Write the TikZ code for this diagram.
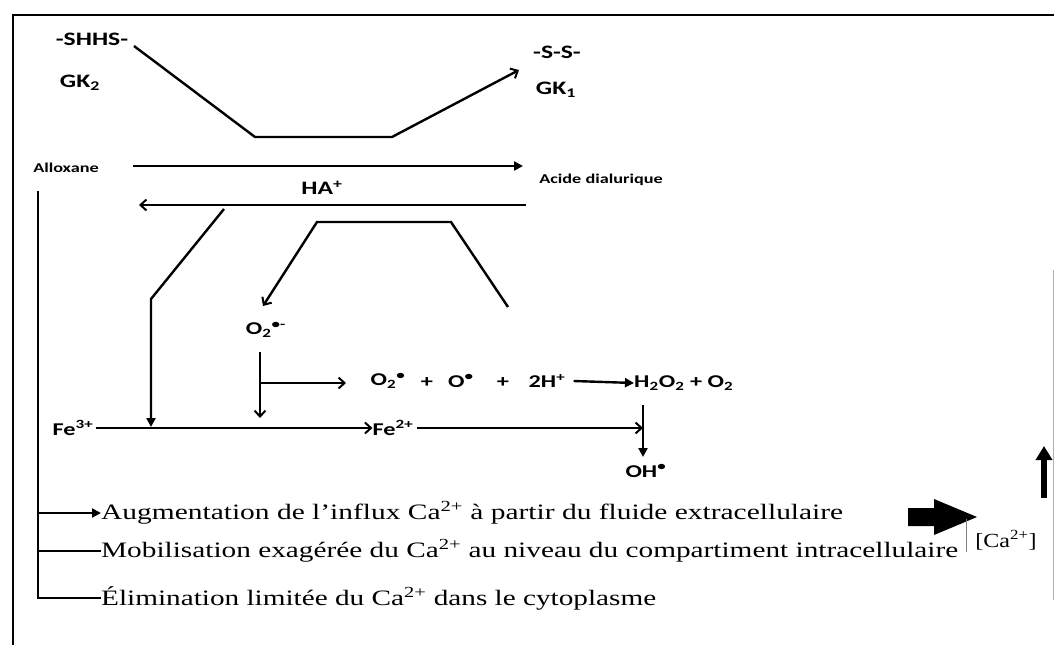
\documentclass[tikz,border=0pt]{standalone}
\usepackage{fontspec}
\usepackage{graphicx}
\setmainfont{Liberation Serif}
\newfontfamily\labfont{Carlito}
\usetikzlibrary{arrows.meta}
\newcommand\sx[1]{\scalebox{1.35}[1]{#1}}
\newcommand\wide[2]{\resizebox{#1}{\height}{#2}}
\tikzset{
  ln/.style={line width=2.4pt, black, line join=miter},
  barb/.style={ln, -{Straight Barb[length=6pt,width=11pt,line width=2pt]}},
  tri/.style={ln, -{Triangle[length=9pt,width=9pt]}},
  lbl/.style={font=\labfont\bfseries\fontsize{19}{21}\selectfont, inner sep=0pt},
  small/.style={font=\labfont\bfseries\fontsize{13.5}{15}\selectfont, inner sep=0pt},
  chem/.style={font=\labfont\bfseries\fontsize{18}{20}\selectfont, inner sep=0pt},
  body/.style={font=\fontsize{22}{24}\selectfont, inner sep=0pt, anchor=west},
}
\begin{document}
\begin{tikzpicture}[x=1pt,y=-1pt]
\useasboundingbox (0,0) rectangle (1054,645);
% frame
\draw[line width=2.8pt] (13,645) -- (13,15) -- (1054,15);
\draw[gray!60, line width=1pt] (1053,270) -- (1053,600);

% top labels
\node[lbl] (shhs) at (92,39) {\sx{-SHHS-}};
\node[lbl] (gk2) at (80,83) {\sx{GK\textsubscript{2}}};
\node[lbl] (ss) at (557,52) {\sx{-S-S-}};
\node[lbl] (gk1) at (556,90) {\sx{GK\textsubscript{1}}};
\node[small] (allox) at (66,168) {\sx{Alloxane}};
\node[small] (acide) at (601,180) {\sx{Acide dialurique}};
\node[lbl] (ha) at (322,188) {\sx{HA\textsuperscript{+}}};

% GK path
\coordinate (g0) at (134,46);
\coordinate (g1) at (255,137);
\coordinate (g2) at (392,137);
\coordinate (g3) at (519,70);
\draw[barb] (g0) -- (g1) -- (g2) -- (g3);

% alloxane -> acide dialurique
\coordinate (a0) at (133,166);
\coordinate (a1) at (523,166);
\draw[tri] (a0) -- (a1);
% return arrow
\coordinate (b0) at (526,205);
\coordinate (b1) at (139,205);
\draw[barb] (b0) -- (b1);

% chemistry nodes
\node[chem] (fe3) at (73,428) {\sx{Fe\textsuperscript{3+}}};
\node[chem] (fe2) at (393,428) {\sx{Fe\textsuperscript{2+}}};
\node[chem] (o2) at (266,330) {\sx{O\textsubscript{2}\textsuperscript{•-}}};
\node[chem] (r1) at (388,381) {\sx{O\textsubscript{2}\textsuperscript{•}}};
\node[chem] (p1) at (427,383) {\sx{+}};
\node[chem] (r2) at (461,381) {\sx{O\textsuperscript{•}}};
\node[chem] (p2) at (503,383) {\sx{+}};
\node[chem] (r3) at (547,381) {\sx{2H\textsuperscript{+}}};
\node[chem, anchor=west] (prod) at (634,383) {\sx{H\textsubscript{2}O\textsubscript{2} + O\textsubscript{2}}};
\node[chem] (oh) at (646,471) {\sx{OH\textsuperscript{•}}};

% path 1: HA -> Fe line
\coordinate (c0) at (224,209);
\coordinate (c1) at (151,299);
\coordinate (c2) at (151,427);
\draw[tri] (c0) -- (c1) -- (c2);

% path 2 -> O2
\coordinate (d0) at (508,307);
\coordinate (d1) at (451,222);
\coordinate (d2) at (317,222);
\coordinate (d3) at (263,306);
\draw[barb] (d0) -- (d1) -- (d2) -- (d3);

% from O2 down
\coordinate (e0) at (260,352);
\coordinate (e1) at (260,418);
\draw[barb] (e0) -- (e1);
\coordinate (e2) at (260,383);
\draw[barb] (e2) -- (346,383);

% reaction arrow
\draw[tri] (r3.east) ++(8pt,0) coordinate (f0) -- (prod.west);

% Fe lines
\draw[barb] (fe3.east) ++(2pt,0) -- (fe2.west);
\coordinate (h0) at (643,405);
\coordinate (h1) at (643,457);
\draw[barb] ([xshift=3pt]fe2.east) -- (h0 |- fe2);
\draw[tri] (h0) -- (h1);

% bottom texts
\node[body] (aug) at (101,513) {\wide{742pt}{Augmentation de l'influx Ca\textsuperscript{2+} à partir du fluide extracellulaire}};
\node[body] (mob) at (101,551) {\wide{857pt}{Mobilisation exagérée du Ca\textsuperscript{2+} au niveau du compartiment intracellulaire}};
\node[body] (elim) at (101,598) {\wide{555pt}{Élimination limitée du Ca\textsuperscript{2+} dans le cytoplasme}};

\coordinate (L0) at (38,191);
\draw[ln, line width=2pt] (L0) -- (L0 |- elim) -- (elim.west);
\draw[tri, line width=2pt] (L0 |- aug) -- (aug.west);
\draw[ln, line width=2pt] (L0 |- mob) -- (mob.west);

% big arrow and [Ca2+]
\node[font=\fontsize{20}{22}\selectfont, inner sep=0pt] (ca) at (1006,540) {\scalebox{1.2}[1]{[Ca\textsuperscript{2+}]}};
\fill[black] (908,508) -- (934,508) -- (934,499) -- (977,517) -- (934,535) -- (934,526) -- (908,526) -- cycle;
\draw[gray, line width=0.8pt] (966,519) -- (966,552);
\coordinate (u0) at (1044,498);
\coordinate (u1) at (1044,446);
\draw[line width=5.5pt, -{Triangle[length=14pt,width=16pt]}] (u0) -- (u1);
\end{tikzpicture}
\end{document}
